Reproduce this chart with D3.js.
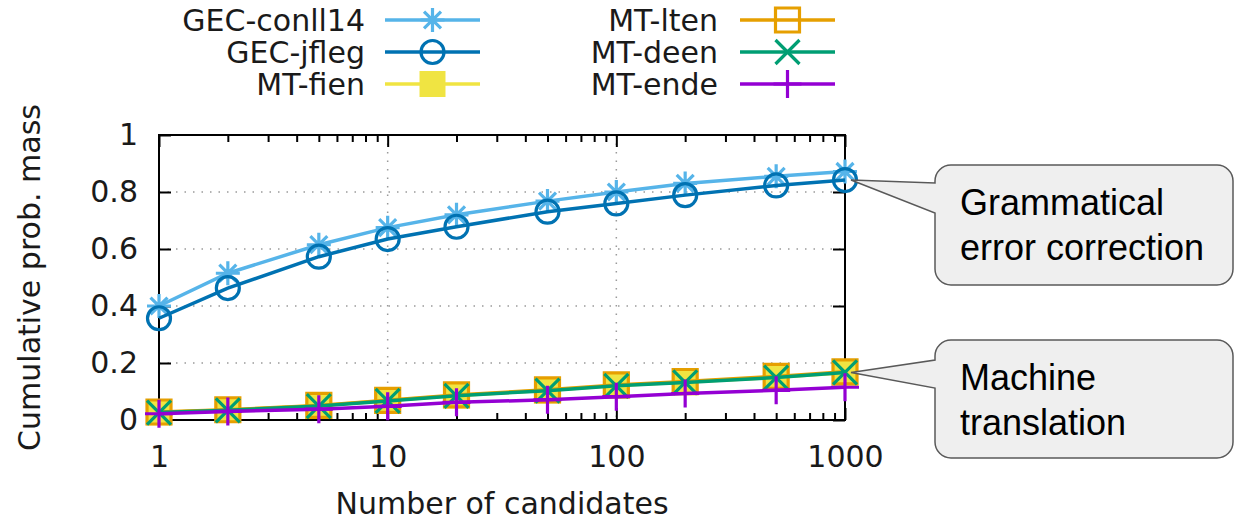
<html>
<head>
<meta charset="utf-8">
<script src="https://cdn.jsdelivr.net/npm/d3@7"></script>
<style>
    body { margin: 0; background: #fff; }
    svg { display: block; }
    .gp { font-family: "DejaVu Sans", sans-serif; font-size: 30px; fill: #1a1a1a; }
    .note { font-family: "Liberation Sans", Arial, sans-serif; font-size: 36px; fill: #000; }
</style>
</head>
<body>
<svg id="chart"></svg>
<script>
// candidates on the x axis (log scale)
const candidates = [1, 2, 5, 10, 20, 50, 100, 200, 500, 1000]

// cumulative probability mass per system
const gecConll14 = [0.400, 0.515, 0.615, 0.675, 0.720, 0.768, 0.800, 0.830, 0.855, 0.872]
const gecJfleg   = [0.357, 0.463, 0.573, 0.635, 0.678, 0.731, 0.760, 0.789, 0.823, 0.842]
const mtFien     = [0.027, 0.035, 0.050, 0.068, 0.086, 0.104, 0.121, 0.133, 0.150, 0.166]
const mtLten     = [0.028, 0.036, 0.051, 0.069, 0.088, 0.106, 0.123, 0.135, 0.153, 0.169]
const mtDeen     = [0.026, 0.034, 0.049, 0.067, 0.085, 0.103, 0.120, 0.132, 0.149, 0.167]
const mtEnde     = [0.022, 0.030, 0.038, 0.048, 0.062, 0.071, 0.082, 0.093, 0.104, 0.115]

const seriesNames  = ["GEC-conll14", "GEC-jfleg", "MT-fien", "MT-lten", "MT-deen", "MT-ende"]
const seriesValues = [gecConll14, gecJfleg, mtFien, mtLten, mtDeen, mtEnde]
const seriesColors = ["#56b4e9", "#0072b2", "#f0e442", "#e69f00", "#009e73", "#9400d3"]
const seriesMarks  = ["asterisk", "circle", "squareFilled", "square", "times", "plus"]

const yTicks = [0, 0.2, 0.4, 0.6, 0.8, 1]
const xTicks = [1, 10, 100, 1000]
const xMinor = [2, 3, 4, 5, 6, 7, 8, 9, 20, 30, 40, 50, 60, 70, 80, 90, 200, 300, 400, 500, 600, 700, 800, 900]
const yGrid = [0.2, 0.4, 0.6, 0.8]
const xGrid = [10, 100]

const xTitle = "Number of candidates"
const yTitle = "Cumulative prob. mass"
const notes = [
    {lines: ["Grammatical", "error correction"], target: [1000, 0.842]},
    {lines: ["Machine", "translation"], target: [1000, 0.167]}
]

const WIDTH = 1234
const HEIGHT = 524
const MARGIN = {top: 135, left: 159, right: 389, bottom: 104}
const CHART_WIDTH = WIDTH - MARGIN.left - MARGIN.right
const CHART_HEIGHT = HEIGHT - MARGIN.top - MARGIN.bottom

const svg = d3.select("#chart").attr("width", WIDTH).attr("height", HEIGHT)

const xScale = d3.scaleLog().domain([1, 1000]).range([0, CHART_WIDTH])
const yScale = d3.scaleLinear().domain([0, 1]).range([CHART_HEIGHT, 0])

// gnuplot style point symbols, centred on 0,0
function markPath(type, s) {
    let p = d3.path()
    if (type === "asterisk") {
        let d = s * 0.707
        p.moveTo(-s, 0); p.lineTo(s, 0)
        p.moveTo(0, -s); p.lineTo(0, s)
        p.moveTo(-d, -d); p.lineTo(d, d)
        p.moveTo(-d, d); p.lineTo(d, -d)
    } else if (type === "circle") {
        p.moveTo(s, 0); p.arc(0, 0, s, 0, 2 * Math.PI)
    } else if (type === "square" || type === "squareFilled") {
        p.rect(-s, -s, 2 * s, 2 * s)
    } else if (type === "times") {
        p.moveTo(-s, -s); p.lineTo(s, s)
        p.moveTo(-s, s); p.lineTo(s, -s)
    } else if (type === "plus") {
        p.moveTo(-s, 0); p.lineTo(s, 0)
        p.moveTo(0, -s); p.lineTo(0, s)
    }
    return p.toString()
}
const markSize = {asterisk: 12, circle: 11.5, squareFilled: 13, square: 12, times: 12, plus: 14}

function drawMark(g, type, color) {
    g.append("path")
        .attr("d", markPath(type, markSize[type]))
        .attr("fill", type === "squareFilled" ? color : "none")
        .attr("stroke", color)
        .attr("stroke-width", type === "squareFilled" ? 0 : 3.2)
}

const plot = svg.append("g").attr("transform", `translate(${MARGIN.left},${MARGIN.top})`)

// dotted grid
plot.selectAll(".hgrid").data(yGrid).enter().append("line")
    .attr("x1", 0).attr("x2", CHART_WIDTH)
    .attr("y1", d => yScale(d)).attr("y2", d => yScale(d))
    .attr("stroke", "#9a9a9a").attr("stroke-width", 1.5).attr("stroke-dasharray", "1.5,7")
plot.selectAll(".vgrid").data(xGrid).enter().append("line")
    .attr("y1", 0).attr("y2", CHART_HEIGHT)
    .attr("x1", d => xScale(d)).attr("x2", d => xScale(d))
    .attr("stroke", "#9a9a9a").attr("stroke-width", 1.5).attr("stroke-dasharray", "1.5,7")

// axes with inward ticks, mirrored on top and right
function styleAxis(g) {
    g.select(".domain").remove()
    g.selectAll(".tick line").attr("stroke", "#000").attr("stroke-width", 2)
    g.selectAll(".tick text").attr("class", "gp").attr("fill", "#1a1a1a")
}
plot.append("g")
    .call(d3.axisLeft(yScale).tickValues(yTicks).tickSize(-12).tickPadding(21).tickFormat(d3.format("")))
    .call(styleAxis)
plot.append("g").attr("transform", `translate(${CHART_WIDTH},0)`)
    .call(d3.axisRight(yScale).tickValues(yTicks).tickSize(-12).tickFormat(""))
    .call(styleAxis)
plot.append("g").attr("transform", `translate(0,${CHART_HEIGHT})`)
    .call(d3.axisBottom(xScale).tickValues(xTicks).tickSize(-12).tickPadding(26).tickFormat(d3.format("d")))
    .call(styleAxis)
plot.append("g").attr("transform", `translate(0,${CHART_HEIGHT})`)
    .call(d3.axisBottom(xScale).tickValues(xMinor).tickSize(-7).tickFormat(""))
    .call(styleAxis)
plot.append("g")
    .call(d3.axisTop(xScale).tickValues(xTicks).tickSize(-12).tickFormat(""))
    .call(styleAxis)
plot.append("g")
    .call(d3.axisTop(xScale).tickValues(xMinor).tickSize(-7).tickFormat(""))
    .call(styleAxis)

plot.append("rect")
    .attr("width", CHART_WIDTH).attr("height", CHART_HEIGHT)
    .attr("fill", "none").attr("stroke", "#000").attr("stroke-width", 2)

// series
const line = d3.line().x(d => xScale(d[0])).y(d => yScale(d[1]))
seriesNames.forEach((name, i) => {
    let pts = candidates.map((c, j) => [c, seriesValues[i][j]])
    let g = plot.append("g")
    g.append("path").datum(pts)
        .attr("d", line).attr("fill", "none")
        .attr("stroke", seriesColors[i]).attr("stroke-width", 3.5)
    pts.forEach(p => {
        let m = g.append("g").attr("transform", `translate(${xScale(p[0])},${yScale(p[1])})`)
        drawMark(m, seriesMarks[i], seriesColors[i])
    })
})

// axis titles
svg.append("text").attr("class", "gp")
    .attr("transform", `translate(40,${MARGIN.top + CHART_HEIGHT / 2}) rotate(-90)`)
    .attr("text-anchor", "middle").text(yTitle)
svg.append("text").attr("class", "gp")
    .attr("x", MARGIN.left + CHART_WIDTH / 2).attr("y", 514)
    .attr("text-anchor", "middle").text(xTitle)

// legend, two columns of three
const legendCols = [{textEnd: 365, lineStart: 385}, {textEnd: 718, lineStart: 740}]
const legendRows = [20, 52, 84]
seriesNames.forEach((name, i) => {
    let col = legendCols[Math.floor(i / 3)], y = legendRows[i % 3]
    let g = svg.append("g")
    g.append("text").attr("class", "gp")
        .attr("x", col.textEnd).attr("y", y).attr("dy", "0.36em")
        .attr("text-anchor", "end").text(name)
    g.append("line")
        .attr("x1", col.lineStart).attr("x2", col.lineStart + 95)
        .attr("y1", y).attr("y2", y)
        .attr("stroke", seriesColors[i]).attr("stroke-width", 3.5)
    let m = g.append("g").attr("transform", `translate(${col.lineStart + 47.5},${y})`)
    drawMark(m, seriesMarks[i], seriesColors[i])
})

// callout boxes
const noteBoxes = [{x: 935, y: 165, w: 298, h: 120, pin: [183, 213]}, {x: 935, y: 340, w: 298, h: 118, pin: [360, 388]}]
notes.forEach((n, i) => {
    let b = noteBoxes[i]
    let tx = MARGIN.left + xScale(n.target[0]) + 6, ty = MARGIN.top + yScale(n.target[1])
    let r = 16
    let p = d3.path()
    p.moveTo(b.x + r, b.y)
    p.lineTo(b.x + b.w - r, b.y)
    p.arcTo(b.x + b.w, b.y, b.x + b.w, b.y + r, r)
    p.lineTo(b.x + b.w, b.y + b.h - r)
    p.arcTo(b.x + b.w, b.y + b.h, b.x + b.w - r, b.y + b.h, r)
    p.lineTo(b.x + r, b.y + b.h)
    p.arcTo(b.x, b.y + b.h, b.x, b.y + b.h - r, r)
    p.lineTo(b.x, b.pin[1])
    p.lineTo(tx, ty)
    p.lineTo(b.x, b.pin[0])
    p.lineTo(b.x, b.y + r)
    p.arcTo(b.x, b.y, b.x + r, b.y, r)
    p.closePath()
    svg.append("path").attr("d", p.toString())
        .attr("fill", "#efefef").attr("stroke", "#595959").attr("stroke-width", 1.5)
    n.lines.forEach((t, k) => {
        svg.append("text").attr("class", "note")
            .attr("x", b.x + 25).attr("y", b.y + 50 + k * 45)
            .text(t)
    })
})
</script>
</body>
</html>
